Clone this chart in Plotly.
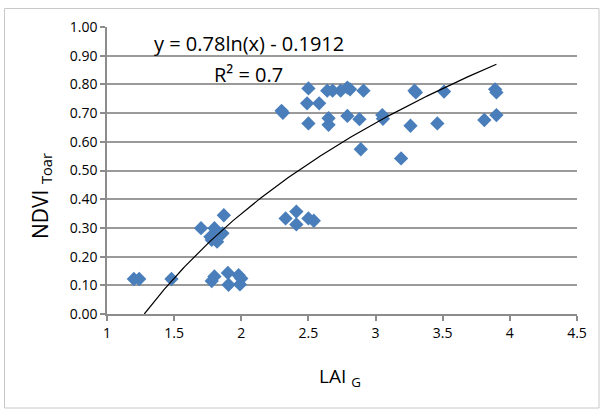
import numpy as np
import plotly.graph_objects as go

# Data (LAI_G vs NDVI_Toar)
lai = [1.20, 1.24, 1.48, 1.70, 1.77, 1.78, 1.80, 1.80, 1.82, 1.86, 1.87,
       1.78, 1.80, 1.90, 1.905, 1.98, 2.00, 1.99,
       2.30, 2.31, 2.33, 2.41, 2.41, 2.50, 2.54,
       2.50, 2.49, 2.58, 2.50, 2.64, 2.68, 2.74, 2.79, 2.81, 2.91,
       2.65, 2.65, 2.79, 2.88, 2.89, 3.05, 3.055, 3.19, 3.26, 3.29, 3.30,
       3.46, 3.51, 3.81, 3.89, 3.90, 3.90]
ndvi = [0.122, 0.122, 0.122, 0.299, 0.269, 0.258, 0.299, 0.280, 0.252, 0.281, 0.344,
        0.115, 0.131, 0.143, 0.102, 0.135, 0.124, 0.103,
        0.708, 0.701, 0.333, 0.357, 0.312, 0.333, 0.325,
        0.786, 0.734, 0.734, 0.664, 0.778, 0.778, 0.778, 0.789, 0.783, 0.778,
        0.682, 0.659, 0.690, 0.679, 0.574, 0.693, 0.680, 0.542, 0.656, 0.778, 0.772,
        0.664, 0.775, 0.676, 0.783, 0.772, 0.693]

# Logarithmic trendline coefficients (from the chart label)
coef_a = 0.78
coef_b = -0.1912
x_tick_vals = [1, 1.5, 2, 2.5, 3, 3.5, 4, 4.5]
x_tick_text = ["1", "1.5", "2", "2.5", "3", "3.5", "4", "4.5"]
y_tick_vals = [0.0, 0.1, 0.2, 0.3, 0.4, 0.5, 0.6, 0.7, 0.8, 0.9, 1.0]
y_tick_text = ["%.2f" % v for v in y_tick_vals]

x0 = np.exp(-coef_b / coef_a)
xt = np.linspace(x0, max(lai), 200)
yt = coef_a * np.log(xt) + coef_b

L, R, T, B = 107, 577, 27, 314
W, H = R - L, B - T


def px(xp):
    return (xp - L) / W


def py(yp):
    return (B - yp) / H


fig = go.Figure()
fig.add_trace(go.Scatter(x=lai, y=ndvi, mode="markers",
                         marker=dict(symbol="diamond", size=11, color="#4A7EBB",
                                     line=dict(width=0)),
                         showlegend=False, cliponaxis=False))
fig.add_trace(go.Scatter(x=xt, y=yt, mode="lines",
                         line=dict(color="black", width=1.2),
                         showlegend=False))

font = "'Open Sans', sans-serif"
fig.update_layout(
    width=601, height=409,
    margin=dict(l=L, r=601 - R, t=T, b=409 - B),
    paper_bgcolor="white", plot_bgcolor="white",
    font=dict(family=font, color="black"),
    xaxis=dict(range=[1, 4.5], tickvals=x_tick_vals, ticktext=x_tick_text,
               showgrid=False, zeroline=False, showline=True, automargin=False,
               linecolor="#8c8c8c", linewidth=1.5,
               ticks="outside", ticklen=5, tickcolor="#8c8c8c", tickwidth=1.5,
               tickfont=dict(size=14)),
    yaxis=dict(range=[0, 1.0], tickvals=y_tick_vals, ticktext=y_tick_text,
               showgrid=True, gridcolor="#9a9a9a", gridwidth=1.5,
               zeroline=False, showline=True, automargin=False,
               linecolor="#8c8c8c", linewidth=1.5,
               ticks="outside", ticklen=5, tickcolor="#8c8c8c", tickwidth=1.5,
               tickfont=dict(size=14)),
    annotations=[
        dict(x=px(249), y=py(43), xref="paper", yref="paper",
             text="y = 0.78ln(x) - 0.1912", showarrow=False,
             font=dict(size=20), xanchor="center", yanchor="middle"),
        dict(x=px(248), y=py(74), xref="paper", yref="paper",
             text="R² = 0.7", showarrow=False,
             font=dict(size=20), xanchor="center", yanchor="middle"),
        dict(x=px(340), y=py(377), xref="paper", yref="paper",
             text="LAI <sub>G</sub>", showarrow=False,
             font=dict(size=19), xanchor="center", yanchor="middle"),
        dict(x=px(41), y=py(196), xref="paper", yref="paper",
             text="NDVI <sub>Toar</sub>", showarrow=False, textangle=-90,
             font=dict(size=21), xanchor="center", yanchor="middle"),
    ],
    shapes=[dict(type="rect", xref="paper", yref="paper",
                 x0=px(4.5), x1=px(599), y0=py(408), y1=py(8.5),
                 line=dict(color="#c8c8c8", width=1), layer="below")],
)

fig.write_html("out.html", config={"displayModeBar": False},
               post_script="document.body.style.margin='0';document.body.style.overflow='hidden';")
